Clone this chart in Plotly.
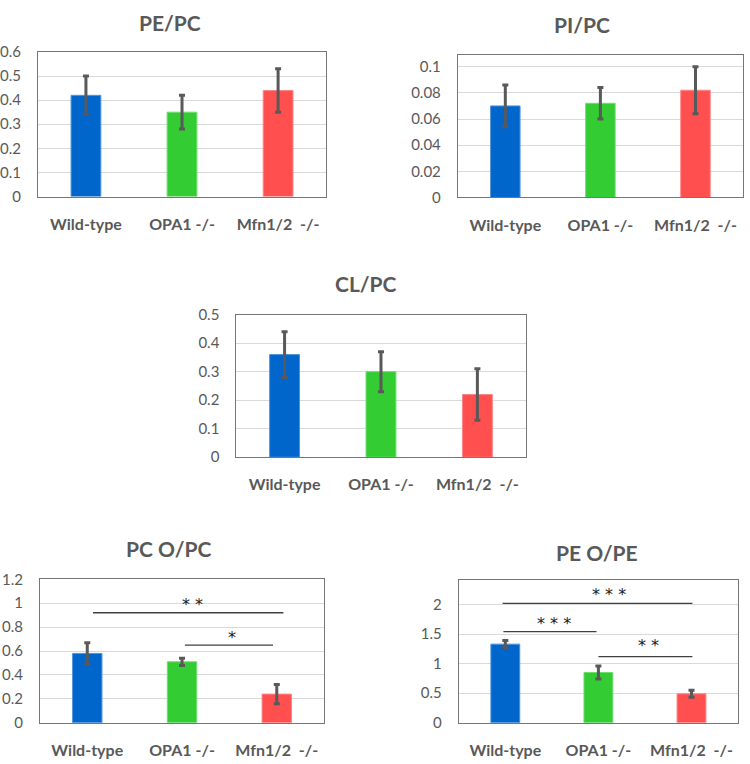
import plotly.graph_objects as go

categories = ["Wild-type", "OPA1 -/-", "Mfn1/2\u00a0 -/-"]
colors = ["#0066CC", "#33CC33", "#FF4F4F"]
edge_colors = ["#4D94DB", "#70DB70", "#FF8585"]

titles = ["PE/PC", "PI/PC", "CL/PC", "PC O/PC", "PE O/PE"]
pe_pc = [0.42, 0.35, 0.44]
pe_pc_err = [0.08, 0.07, 0.09]
pi_pc = [0.070, 0.072, 0.082]
pi_pc_err = [0.016, 0.012, 0.018]
cl_pc = [0.36, 0.30, 0.22]
cl_pc_err = [0.08, 0.07, 0.09]
pco_pc = [0.58, 0.51, 0.24]
pco_pc_err = [0.09, 0.03, 0.08]
peo_pe = [1.33, 0.85, 0.49]
peo_pe_err = [0.06, 0.11, 0.06]

values = [pe_pc, pi_pc, cl_pc, pco_pc, peo_pe]
errors = [pe_pc_err, pi_pc_err, cl_pc_err, pco_pc_err, peo_pe_err]
y_ranges = [[0, 0.6], [0, 0.109], [0, 0.5], [0, 1.2], [0, 2.41]]
y_dticks = [0.1, 0.02, 0.1, 0.2, 0.5]

# significance brackets
sig_panel = [3, 3, 4, 4, 4]
sig_x0 = [0.06, 1.03, -0.03, -0.02, 1.0]
sig_x1 = [2.07, 1.96, 2.01, 0.98, 2.01]
sig_y = [0.92, 0.65, 2.02, 1.54, 1.12]
sig_text = ["* *", "*", "* * *", "* * *", "* *"]
sig_tx = [1.11, 1.53, 1.11, 0.52, 1.54]
sig_ty = [0.99, 0.71, 2.17, 1.68, 1.30]

W, H = 750, 764
boxes = [(36, 43, 325, 191), (457, 46, 743, 192), (235, 312, 525, 458),
         (38, 583, 323, 730), (458, 584, 738, 730)]
title_pos = [(168, 13), (582, 15), (365, 280), (167, 551), (597, 556)]

GRAY = "#595959"
FONT = "Lato"

fig = go.Figure()
layout = dict(
    width=W, height=H, margin=dict(l=0, r=0, t=0, b=0),
    paper_bgcolor="white", plot_bgcolor="white", showlegend=False,
    font=dict(family=FONT, color=GRAY),
    annotations=[], shapes=[],
)

for i in range(5):
    n = "" if i == 0 else str(i + 1)
    fig.add_trace(go.Bar(
        x=categories, y=values[i],
        marker=dict(color=colors, line=dict(color=edge_colors, width=1)),
        width=0.31,
        error_y=dict(type="data", array=errors[i], color="#595959",
                     thickness=3, width=3),
        xaxis="x" + n, yaxis="y" + n, hoverinfo="skip",
    ))
    l, t, r, b = boxes[i]
    layout["xaxis" + n] = dict(
        domain=[l / W, r / W], anchor="y" + n, type="category",
        range=[-0.5, 2.5], showline=True, linecolor="#767676", linewidth=1,
        mirror=True, showgrid=False, ticks="", ticklabelstandoff=13,
        tickfont=dict(family=FONT, size=16, color=GRAY, weight="bold"),
        fixedrange=True,
    )
    layout["yaxis" + n] = dict(
        domain=[1 - b / H, 1 - t / H], anchor="x" + n, range=y_ranges[i],
        dtick=y_dticks[i], tick0=0, showline=True, linecolor="#767676",
        linewidth=1, mirror=True, showgrid=True, gridcolor="#D9D9D9",
        gridwidth=1, zeroline=False, ticks="", ticklabelstandoff=13,
        tickfont=dict(family=FONT, size=15, color=GRAY), fixedrange=True,
    )
    tx, ty = title_pos[i]
    layout["annotations"].append(dict(
        text="<b>" + titles[i] + "</b>", x=tx / W, y=1 - ty / H,
        xref="paper", yref="paper", showarrow=False,
        font=dict(family=FONT, size=21, color=GRAY),
        xanchor="center", yanchor="middle",
    ))

for k in range(len(sig_panel)):
    n = str(sig_panel[k] + 1)
    layout["shapes"].append(dict(
        type="line", xref="x" + n, yref="y" + n,
        x0=sig_x0[k], x1=sig_x1[k], y0=sig_y[k], y1=sig_y[k],
        line=dict(color="#404040", width=1.3),
    ))
    layout["annotations"].append(dict(
        text=sig_text[k], x=sig_tx[k], y=sig_ty[k],
        xref="x" + n, yref="y" + n, showarrow=False,
        font=dict(family="DejaVu Sans", size=16, color="#1a1a1a"),
        xanchor="center", yanchor="middle",
    ))

fig.update_layout(**layout)
fig.write_html(
    "out.html",
    config={"displayModeBar": False, "staticPlot": True},
    post_script="document.body.style.margin='0px';document.body.style.overflow='hidden';",
)
